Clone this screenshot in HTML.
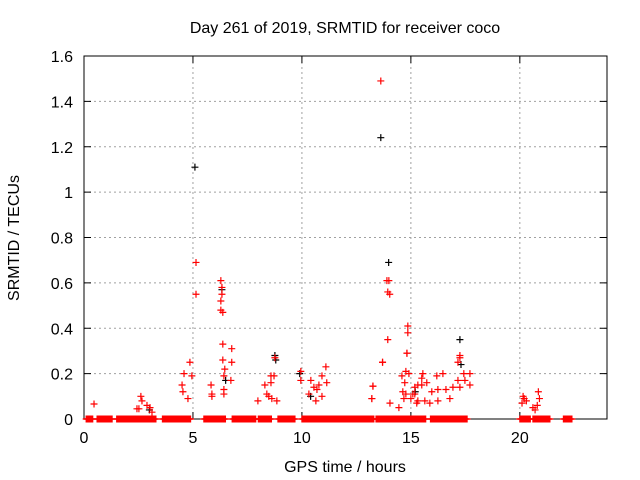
<!DOCTYPE html>
<html><head><meta charset="utf-8"><style>
body{margin:0;background:#fff;}
svg{display:block;font-family:"Liberation Sans",sans-serif;}
</style></head><body>
<svg id="chart" width="640" height="480"></svg>
<script>
const xTicks=[0,5,10,15,20];
const yTicks=[0,0.2,0.4,0.6,0.8,1,1.2,1.4,1.6];
const yTickLabels=["0","0.2","0.4","0.6","0.8","1","1.2","1.4","1.6"];
const blackHours=[5.09,13.62,13.98,6.33,8.76,17.25,6.5,9.9,10.4,15.2,17.3,8.8,3.0];
const blackValues=[1.11,1.24,0.69,0.57,0.28,0.35,0.17,0.2,0.1,0.12,0.24,0.26,0.04];
const redHours=[0.46,5.14,5.14,6.28,6.33,6.33,6.28,6.28,6.37,6.37,6.78,6.37,6.78,6.46,6.42,6.74,6.42,6.42,4.86,4.59,4.95,4.5,4.54,4.77,5.83,5.87,5.87,2.61,2.66,2.43,2.52,2.89,3.03,3.12,7.98,8.3,8.39,8.48,8.58,8.58,8.62,8.72,8.76,8.85,9.95,9.95,11.1,10.41,10.55,10.78,10.92,11.14,10.32,10.64,10.92,10.69,13.62,13.99,13.9,13.94,14.03,13.94,13.7,13.26,13.21,14.86,14.86,14.82,14.82,13.7,13.26,13.21,14.77,14.91,15.55,15.5,14.72,15.18,15.32,15.73,16.19,16.47,17.25,17.25,17.16,17.43,17.71,17.16,17.48,17.71,17.25,16.93,16.61,16.24,15.96,15.09,14.77,14.68,15.0,15.32,15.64,15.87,16.24,16.79,14.59,14.04,14.45,15.18,15.5,14.63,15.27,20.1,20.2,20.3,20.6,20.8,20.9,20.85,20.15,20.7];
const redValues=[0.066,0.69,0.55,0.61,0.58,0.55,0.52,0.48,0.47,0.33,0.31,0.26,0.25,0.22,0.19,0.17,0.13,0.11,0.25,0.20,0.19,0.15,0.12,0.09,0.15,0.11,0.10,0.10,0.08,0.045,0.045,0.06,0.05,0.03,0.08,0.15,0.11,0.10,0.19,0.16,0.09,0.19,0.27,0.08,0.21,0.17,0.23,0.17,0.14,0.15,0.19,0.16,0.11,0.08,0.10,0.13,1.49,0.61,0.61,0.56,0.55,0.35,0.25,0.145,0.09,0.41,0.38,0.29,0.29,0.25,0.145,0.09,0.21,0.20,0.20,0.18,0.16,0.14,0.15,0.16,0.19,0.20,0.28,0.27,0.25,0.2,0.2,0.17,0.17,0.15,0.14,0.14,0.13,0.13,0.12,0.11,0.11,0.09,0.09,0.08,0.08,0.07,0.08,0.09,0.19,0.07,0.05,0.11,0.15,0.12,0.07,0.07,0.09,0.08,0.05,0.06,0.09,0.12,0.1,0.04];
const zeroStarts=[0.1,0.6,1.5,3.6,5.5,6.8,8.0,8.9,10.0,13.4,15.9,20.0,20.6,22.0];
const zeroEnds=[0.4,1.3,3.3,4.9,6.5,7.9,8.6,9.7,13.3,15.7,17.6,20.5,21.4,22.4];

const svg=document.getElementById('chart');
const NS='http://www.w3.org/2000/svg';
const X0=84,X1=607,Y0=419,Y1=56;
const xs=h=>X0+h*(X1-X0)/24;
const ys=v=>Y0-v*(Y0-Y1)/1.6;
function mk(t,a,p){const e=document.createElementNS(NS,t);for(const k in a)e.setAttribute(k,a[k]);(p||svg).appendChild(e);return e;}
function txt(s,x,y,anc,extra){const e=mk('text',Object.assign({x:x,y:y,'text-anchor':anc,'font-size':16,fill:'#000'},extra||{}));e.textContent=s;return e;}

const t=txt('Day 261 of 2019, SRMTID for receiver coco',345,33,'middle');


const grid=mk('g',{});


yTicks.forEach((v,i)=>{
  if(i>0&&i<yTicks.length-1){mk('line',{x1:X0,x2:X1,y1:ys(v),y2:ys(v),stroke:'#a0a0a0','stroke-dasharray':'2,3'},grid);}
  mk('line',{x1:X0,x2:X0+7,y1:ys(v),y2:ys(v),stroke:'#000'},grid);
  mk('line',{x1:X1,x2:X1-7,y1:ys(v),y2:ys(v),stroke:'#000'},grid);
  const l=txt(yTickLabels[i],73,ys(v)+6,'end');
  
  
});
xTicks.forEach(h=>{
  if(h>0){mk('line',{x1:xs(h),x2:xs(h),y1:Y0,y2:Y1,stroke:'#a0a0a0','stroke-dasharray':'2,3'},grid);}
  mk('line',{x1:xs(h),x2:xs(h),y1:Y0,y2:Y0-7,stroke:'#000'},grid);
  mk('line',{x1:xs(h),x2:xs(h),y1:Y1,y2:Y1+7,stroke:'#000'},grid);
  const l=txt(String(h),xs(h),443,'middle');
  
  
});
const frame=mk('rect',{x:X0,y:Y1,width:X1-X0,height:Y0-Y1,fill:'none',stroke:'#000'});


const xl=txt('GPS time / hours',345,472,'middle');


const yl=txt('SRMTID / TECUs',0,0,'middle',{transform:'translate(19,238) rotate(-90)'});



function plus(g,h,v,c){const x=xs(h),y=ys(v);mk('path',{d:`M${x-3.5} ${y}H${x+3.5}M${x} ${y-3.5}V${y+3.5}`,stroke:c,'stroke-width':1.2,fill:'none'},g);}
const gb=mk('g',{});


blackHours.forEach((h,i)=>plus(gb,h,blackValues[i],'#000'));
const gz=mk('g',{});


zeroStarts.forEach((s,i)=>{for(let h=s;h<=zeroEnds[i]+1e-6;h+=0.03)plus(gz,h,0,'#f00');});
const gr=mk('g',{});


redHours.forEach((h,i)=>plus(gr,h,redValues[i],'#f00'));
</script>
</body></html>
